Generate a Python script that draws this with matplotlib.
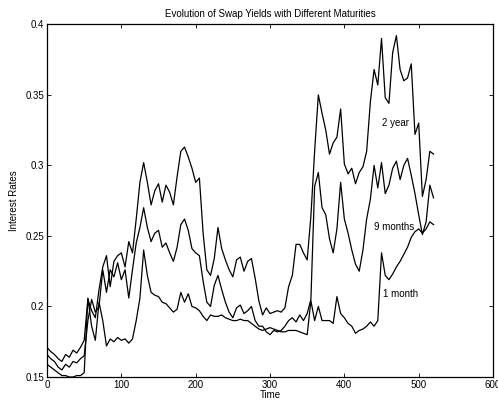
import matplotlib
matplotlib.use("Agg")
import matplotlib.pyplot as plt

plt.rcParams['font.family'] = ['Liberation Sans', 'DejaVu Sans']

time = list(range(0, 521, 5))

two_year = [
    0.171, 0.168, 0.166, 0.163, 0.161, 0.166, 0.164, 0.169, 0.167, 0.171,
    0.176, 0.205, 0.197, 0.192, 0.212, 0.228, 0.236, 0.214, 0.232, 0.236,
    0.238, 0.228, 0.246, 0.238, 0.262, 0.288, 0.302, 0.288, 0.272, 0.282,
    0.287, 0.274, 0.286, 0.281, 0.272, 0.292, 0.310, 0.313, 0.306, 0.298,
    0.288, 0.291, 0.252, 0.226, 0.222, 0.234, 0.256, 0.241, 0.233, 0.226,
    0.221, 0.233, 0.235, 0.225, 0.232, 0.234, 0.220, 0.204, 0.194, 0.199,
    0.195, 0.196, 0.197, 0.196, 0.199, 0.214, 0.222, 0.244, 0.244, 0.238,
    0.233, 0.264, 0.310, 0.350, 0.337, 0.325, 0.308, 0.316, 0.320, 0.340,
    0.301, 0.294, 0.298, 0.287, 0.295, 0.299, 0.310, 0.345, 0.368, 0.357,
    0.390, 0.348, 0.344, 0.380, 0.392, 0.368, 0.360, 0.362, 0.372, 0.322,
    0.330, 0.278, 0.290, 0.310, 0.308,
]

nine_months = [
    0.166, 0.163, 0.161, 0.157, 0.155, 0.159, 0.157, 0.161, 0.160, 0.163,
    0.165, 0.190, 0.205, 0.196, 0.200, 0.226, 0.210, 0.226, 0.221, 0.231,
    0.219, 0.226, 0.206, 0.226, 0.245, 0.256, 0.270, 0.256, 0.246, 0.252,
    0.254, 0.242, 0.245, 0.238, 0.232, 0.242, 0.258, 0.262, 0.254, 0.241,
    0.238, 0.236, 0.218, 0.203, 0.200, 0.215, 0.222, 0.212, 0.203, 0.196,
    0.192, 0.199, 0.201, 0.195, 0.197, 0.200, 0.190, 0.186, 0.186, 0.182,
    0.180, 0.183, 0.182, 0.183, 0.186, 0.190, 0.192, 0.189, 0.194, 0.190,
    0.195, 0.205, 0.285, 0.295, 0.270, 0.265, 0.248, 0.238, 0.255, 0.288,
    0.262, 0.252, 0.240, 0.230, 0.225, 0.240, 0.262, 0.276, 0.300, 0.284,
    0.302, 0.280, 0.286, 0.298, 0.303, 0.290, 0.300, 0.305, 0.293, 0.280,
    0.265, 0.251, 0.260, 0.286, 0.277,
]

one_month = [
    0.159, 0.157, 0.155, 0.153, 0.151, 0.151, 0.150, 0.150, 0.151, 0.151,
    0.153, 0.206, 0.186, 0.176, 0.203, 0.190, 0.172, 0.177, 0.175, 0.178,
    0.176, 0.177, 0.174, 0.177, 0.190, 0.206, 0.240, 0.222, 0.210, 0.208,
    0.207, 0.203, 0.202, 0.199, 0.196, 0.198, 0.210, 0.203, 0.209, 0.200,
    0.199, 0.197, 0.193, 0.190, 0.194, 0.193, 0.193, 0.194, 0.192, 0.191,
    0.190, 0.190, 0.191, 0.190, 0.190, 0.188, 0.186, 0.184, 0.183, 0.184,
    0.185, 0.184, 0.183, 0.182, 0.182, 0.183, 0.183, 0.183, 0.182, 0.181,
    0.180, 0.204, 0.190, 0.200, 0.190, 0.190, 0.190, 0.188, 0.207, 0.195,
    0.192, 0.188, 0.186, 0.181, 0.183, 0.184, 0.186, 0.189, 0.186, 0.190,
    0.238, 0.222, 0.219, 0.223, 0.228, 0.232, 0.237, 0.242, 0.249, 0.253,
    0.255, 0.252, 0.255, 0.260, 0.258,
]

x_ticks = [0, 100, 200, 300, 400, 500, 600]
y_ticks = [0.15, 0.2, 0.25, 0.3, 0.35, 0.4]
y_tick_labels = ['0.15', '0.2', '0.25', '0.3', '0.35', '0.4']

# label text and where it sits (data coords)
labels = [('2 year', 451, 0.330), ('9 months', 440, 0.2565), ('1 month', 452, 0.209)]

fs = 7

fig = plt.figure(figsize=(4.98, 4.07), dpi=100)
ax = fig.add_axes([0.0944, 0.0737, 0.8956, 0.8665])

for series in (two_year, nine_months, one_month):
    ax.plot(time, series, color='black', lw=0.9)

for txt, tx, ty in labels:
    ax.text(tx, ty, txt, fontsize=fs, ha='left', va='center')

ax.set_xlim(0, 600)
ax.set_ylim(0.15, 0.4)
ax.set_xticks(x_ticks)
ax.set_xticklabels([str(v) for v in x_ticks])
ax.set_yticks(y_ticks)
ax.set_yticklabels(y_tick_labels)
ax.tick_params(direction='in', top=True, right=True, labelsize=fs,
               length=3, width=0.6, pad=2)
for sp in ax.spines.values():
    sp.set_linewidth(0.9)

ax.set_title('Evolution of Swap Yields with Different Maturities', fontsize=fs, pad=5)
ax.set_xlabel('Time', fontsize=fs, labelpad=0)
ax.set_ylabel('Interest Rates', fontsize=fs, labelpad=5)

fig.savefig('out.png', dpi=100)
